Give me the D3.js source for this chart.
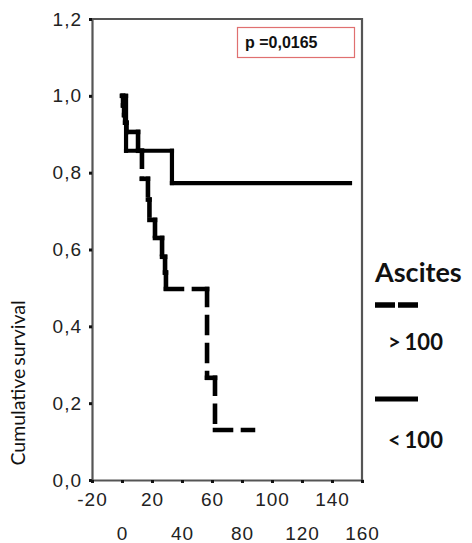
<!DOCTYPE html>
<html>
<head>
<meta charset="utf-8">
<script src="https://cdn.jsdelivr.net/npm/d3@7"></script>
<style>
  body { margin: 0; background: #fff; }
</style>
</head>
<body>
<div id="playground"></div>
<script>
// Ascites > 100 (dashed curve): event times and survival after each step
var timeHigh = [0, 0.7, 1.4, 2.1, 3.0, 10.7, 13.3, 17.3, 18.3, 22.0, 26.7, 28.7, 29.3, 56.7, 62.0, 87.3]
var survHigh = [1.0, 0.975, 0.95, 0.93, 0.906, 0.857, 0.784, 0.73, 0.677, 0.63, 0.581, 0.54, 0.497, 0.266, 0.13, 0.13]

// Ascites < 100 (solid curve)
var timeLow = [0, 2.7, 33.3, 152]
var survLow = [1.0, 0.857, 0.773, 0.773]

// Axes
var xTicks = [-20, 0, 20, 40, 60, 80, 100, 120, 140, 160]
var yTicks = [0, 0.2, 0.4, 0.6, 0.8, 1.0, 1.2]
var yLabel = 'Cumulative survival'
var pLabel = 'p =0,0165'
var legendTitle = 'Ascites'
var legendLabels = ['> 100', '< 100']

// --- (end of data)

var W = 472
var H = 543
var frame = {left: 92, right: 362, top: 19, bottom: 480}

var x = d3.scaleLinear().domain([-20, 160]).range([frame.left, frame.right])
var y = d3.scaleLinear().domain([0, 1.2]).range([frame.bottom, frame.top])

// comma decimals and a plain hyphen for negatives
var locale = d3.formatLocale({decimal: ',', thousands: '.', grouping: [3], currency: ['', ''], minus: '-'})
var yFmt = locale.format('.1f')
var xFmt = locale.format('d')

var svg = d3.select('#playground').append('svg')
    .attr('width', W)
    .attr('height', H)

// Frame (top and right borders)
svg.append('path')
    .attr('d', 'M' + x(-20) + ',' + y(1.2) + 'H' + x(160) + 'V' + y(0))
    .attr('fill', 'none')
    .attr('stroke', '#555')
    .attr('stroke-width', 2.2)

// Y axis
var yAxis = svg.append('g')
    .attr('transform', 'translate(' + frame.left + ',0)')
    .call(d3.axisLeft(y).tickValues(yTicks).tickSize(3).tickFormat(yFmt))
yAxis.select('.domain').attr('stroke', '#555').attr('stroke-width', 2.2)
yAxis.selectAll('.tick line').attr('stroke', '#111').attr('stroke-width', 3)
yAxis.selectAll('.tick text')
    .attr('x', -10)
    .attr('font-family', 'Liberation Sans, Arial, sans-serif')
    .attr('font-size', '19px')
    .attr('letter-spacing', '1px')
    .attr('fill', '#222')

// X axis, labels on two alternating rows
var xAxis = svg.append('g')
    .attr('transform', 'translate(0,' + frame.bottom + ')')
    .call(d3.axisBottom(x).tickValues(xTicks).tickSize(3).tickFormat(xFmt))
xAxis.select('.domain').attr('stroke', '#555').attr('stroke-width', 2.2)
xAxis.selectAll('.tick line').attr('stroke', '#111').attr('stroke-width', 3)
xAxis.selectAll('.tick text')
    .attr('y', function(d, i){ return i % 2 === 0 ? 13 : 47 })
    .attr('font-family', 'Liberation Sans, Arial, sans-serif')
    .attr('font-size', '19px')
    .attr('letter-spacing', '1px')
    .attr('fill', '#222')

// Y label
svg.append('text')
    .attr('transform', 'translate(25,' + 383 + ') rotate(-90)')
    .attr('text-anchor', 'middle')
    .attr('font-family', 'Lato, sans-serif')
    .attr('font-size', '19.5px')
    .attr('word-spacing', '-2px')
    .attr('fill', '#111')
    .text(yLabel)

// Step segments: horizontal then vertical
function stepSegments(times, survs) {
  var segs = []
  for (var i = 0; i < times.length - 1; i++) {
    segs.push({x1: times[i], y1: survs[i], x2: times[i + 1], y2: survs[i]})
    if (survs[i + 1] !== survs[i]) {
      segs.push({x1: times[i + 1], y1: survs[i], x2: times[i + 1], y2: survs[i + 1]})
    }
  }
  return segs
}

// Curves
var curves = [
  {segs: stepSegments(timeHigh, survHigh), dash: '16,12', width: 4.6},
  {segs: stepSegments(timeLow, survLow), dash: null, width: 4.2}
]
curves.forEach(function(c){
  svg.append('g').selectAll('line')
      .data(c.segs)
    .enter().append('line')
      .attr('x1', function(d){ return x(d.x1) })
      .attr('y1', function(d){ return y(d.y1) })
      .attr('x2', function(d){ return x(d.x2) })
      .attr('y2', function(d){ return y(d.y2) })
      .attr('stroke', '#000')
      .attr('stroke-width', c.width)
      .attr('stroke-linecap', 'square')
      .attr('stroke-dasharray', c.dash)
})

// p value box
svg.append('rect')
    .attr('x', 237.5)
    .attr('y', 27.5)
    .attr('width', 117)
    .attr('height', 30)
    .attr('fill', '#fff')
    .attr('stroke', '#e07070')
    .attr('stroke-width', 1.2)
svg.append('text')
    .attr('x', 245)
    .attr('y', 48)
    .attr('font-family', 'Liberation Sans, Arial, sans-serif')
    .attr('font-weight', 'bold')
    .attr('font-size', '16px')
    .attr('fill', '#111')
    .text(pLabel)

// Legend
var legend = svg.append('g')
legend.append('text')
    .attr('x', 375)
    .attr('y', 282)
    .attr('font-family', 'Lato, sans-serif')
    .attr('font-weight', 'bold')
    .attr('font-size', '27px')
    .attr('fill', '#111')
    .text(legendTitle)

legend.append('line')
    .attr('x1', 375).attr('x2', 418)
    .attr('y1', 305).attr('y2', 305)
    .attr('stroke', '#000')
    .attr('stroke-width', 5.5)
    .attr('stroke-dasharray', '20,3')
legend.append('line')
    .attr('x1', 375).attr('x2', 418)
    .attr('y1', 399).attr('y2', 399)
    .attr('stroke', '#000')
    .attr('stroke-width', 5)

legend.selectAll('text.lab')
    .data(legendLabels)
  .enter().append('text')
    .attr('class', 'lab')
    .attr('x', 388)
    .attr('y', function(d, i){ return i === 0 ? 350 : 448 })
    .attr('font-family', 'Lato, sans-serif')
    .attr('font-weight', 'bold')
    .attr('font-size', '22px')
    .attr('word-spacing', '-1.5px')
    .attr('fill', '#111')
    .text(function(d){ return d })
</script>
</body>
</html>
